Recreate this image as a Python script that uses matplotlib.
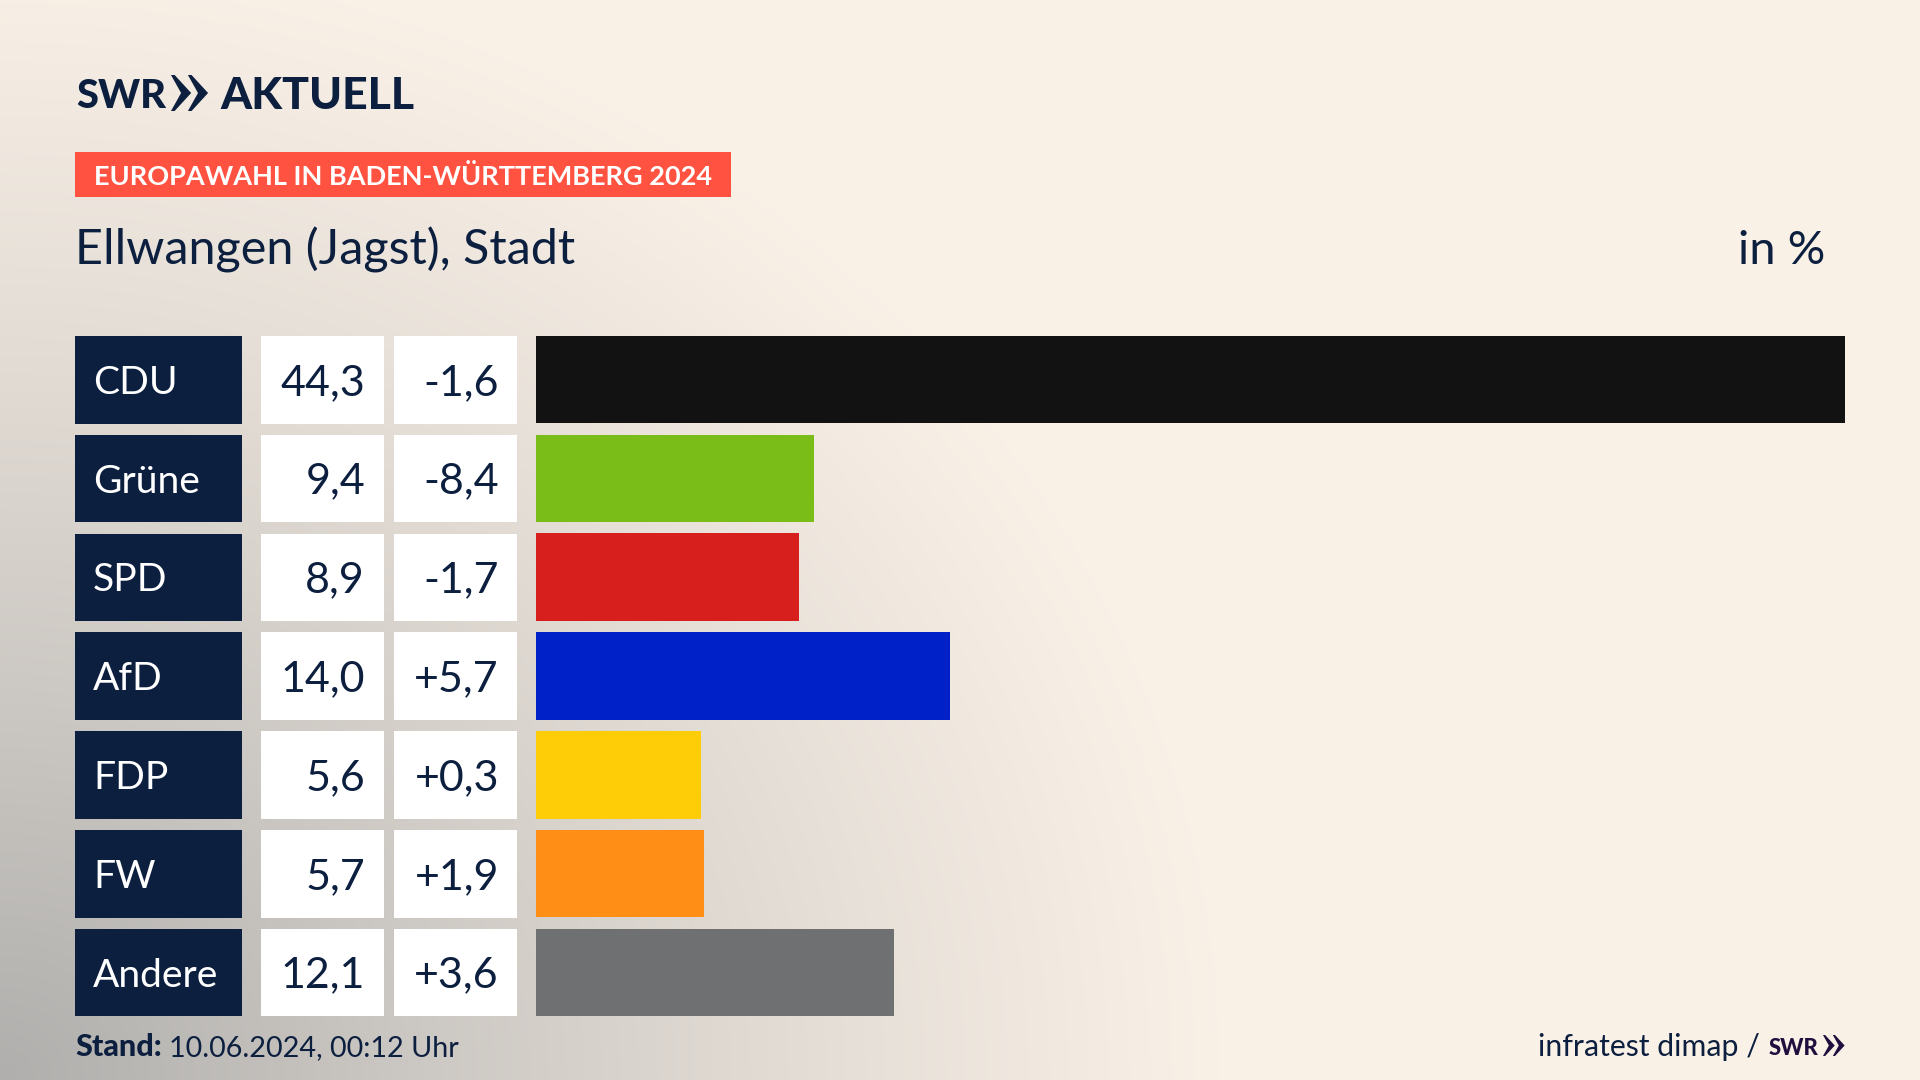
import numpy as np
import matplotlib
matplotlib.use('Agg')
import matplotlib.pyplot as plt
from matplotlib.patches import Rectangle, Polygon

parties = ['CDU', 'Grüne', 'SPD', 'AfD', 'FDP', 'FW', 'Andere']
shares = [44.3, 9.4, 8.9, 14.0, 5.6, 5.7, 12.1]
changes = [-1.6, -8.4, -1.7, 5.7, 0.3, 1.9, 3.6]
bar_colors = ['#121212', '#7abd18', '#d7201d', '#0020c8', '#ffcc08', '#ff8e16', '#6f7072']

NAVY = '#0c1f3f'
plt.rcParams['font.family'] = ['Lato', 'DejaVu Sans']


def px(size):
	return size * 0.72


def fit_width(txt, width):
	# shrink or grow a text until it is as wide as the original
	box = txt.get_window_extent(fig.canvas.get_renderer())
	txt.set_fontsize(txt.get_fontsize() * width / box.width)


def chevrons(ax, x, y, h, color):
	# the two arrows of the SWR logo
	w = h * 0.56
	for off in (0, h * 0.47):
		pts = [(x + off, y), (x + off + w * 0.18, y), (x + off + w, y + h / 2),
			(x + off + w * 0.18, y + h), (x + off, y + h), (x + off + w * 0.5, y + h / 2)]
		ax.add_patch(Polygon(pts, closed=True, color=color, lw=0))


def background(ax):
	yy, xx = np.mgrid[0:1080:270j, 0:1920:480j]
	cream = np.array([250, 241, 231]) / 255
	grey = np.array([176, 175, 173]) / 255
	r = np.sqrt((xx / 1250) ** 2 + ((1080 - yy) / 1150) ** 2)
	t = np.clip(1 - r, 0, 1) ** 1.15
	img = cream + (grey - cream) * t[..., None]
	ax.imshow(img, extent=(0, 1920, 1080, 0), aspect='auto', interpolation='bilinear')


fig = plt.figure(figsize=(19.2, 10.8), dpi=100)
ax = fig.add_axes([0, 0, 1, 1])
background(ax)
ax.set_xlim(0, 1920)
ax.set_ylim(1080, 0)
ax.axis('off')

# logo
swr = ax.text(76, 108, 'SWR', fontsize=px(40), fontweight='black', color=NAVY, va='baseline')
fit_width(swr, 90)
chevrons(ax, 171, 75, 36, NAVY)
aktuell = ax.text(220, 109, 'AKTUELL', fontsize=px(45), fontweight='black', color=NAVY, va='baseline')
fit_width(aktuell, 194)

# header
ax.add_patch(Rectangle((75, 152), 656, 45, color='#ff5240', lw=0))
banner = ax.text(94, 185, 'EUROPAWAHL IN BADEN-WÜRTTEMBERG 2024', fontsize=px(27), fontweight='bold',
	color='white', va='baseline')
fit_width(banner, 617)
ax.text(75, 264.5, 'Ellwangen (Jagst), Stadt', fontsize=px(48.5), color=NAVY, va='baseline')
ax.text(1825, 264.5, 'in %', fontsize=px(47), color=NAVY, va='baseline', ha='right')

# table cells
row_top = 336
row_step = 98.8
row_h = 87.5
for i, (party, share, change) in enumerate(zip(parties, shares, changes)):
	top = row_top + i * row_step
	base = top + row_h / 2 + 14
	ax.add_patch(Rectangle((75, top), 167, row_h, color=NAVY, lw=0))
	ax.add_patch(Rectangle((261, top), 123, row_h, color='white', lw=0))
	ax.add_patch(Rectangle((394, top), 123, row_h, color='white', lw=0))
	ax.text(93, base, party, fontsize=px(39), color='white', va='baseline')
	ax.text(365, base + 1, f'{share:.1f}'.replace('.', ','), fontsize=px(43), color=NAVY, va='baseline', ha='right')
	ax.text(499, base + 1, f'{change:+.1f}'.replace('.', ','), fontsize=px(43), color=NAVY, va='baseline', ha='right')

# footer
ax.text(75, 1056, 'Stand:', fontsize=px(30.5), fontweight='black', color=NAVY, va='baseline')
ax.text(169, 1056, '10.06.2024, 00:12 Uhr', fontsize=px(28.7), color=NAVY, va='baseline')
ax.text(1760, 1056, 'infratest dimap /', fontsize=px(30.3), color=NAVY, va='baseline', ha='right')
swr_small = ax.text(1769, 1055, 'SWR', fontsize=px(24), fontweight='black', color='#1f0f3f', va='baseline')
fit_width(swr_small, 50)
chevrons(ax, 1823, 1035, 21, '#1f0f3f')

# bars
bar_ax = fig.add_axes([536 / 1920, (1080 - 1016) / 1080, 1309 / 1920, 680 / 1080])
bar_ax.barh(range(len(parties)), shares, height=0.886, color=bar_colors)
bar_ax.set_xlim(0, max(shares))
bar_ax.set_ylim(len(parties) - 1 + 0.44, -0.44)
bar_ax.axis('off')

fig.savefig('out.png', dpi=100)
